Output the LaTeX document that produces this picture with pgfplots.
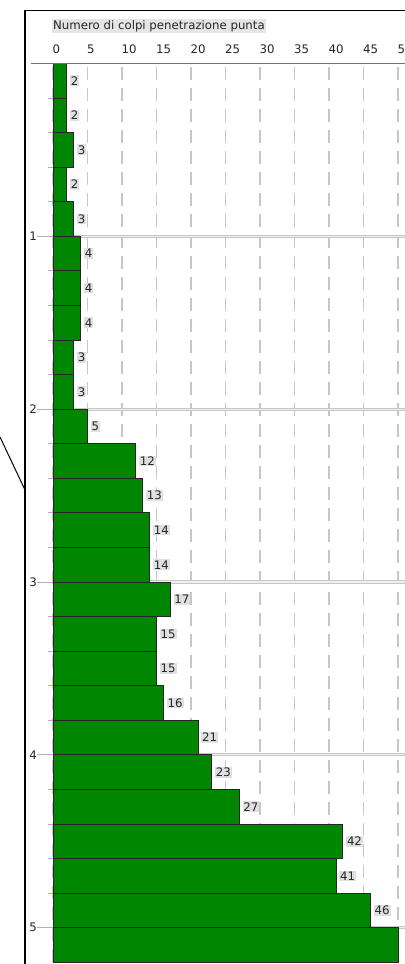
\documentclass[border=0pt]{standalone}
\usepackage{pgfplots}
\pgfplotsset{compat=1.18}
\usepackage{fontspec}
\setmainfont{DejaVu Sans}
\definecolor{bargreen}{RGB}{0,134,0}
\newcommand{\lblfont}{\fontsize{11.8}{13}\selectfont}
\begin{document}
\begin{tikzpicture}[x=1bp,y=1bp]
\useasboundingbox (0,0) rectangle (404,964);
% outer frame and connector line
\draw[black, line width=1.5bp] (25,-2) -- (25,953.3) -- (406,953.3);
\draw[black, line width=1bp] (0,527) -- (25,474);
\node[anchor=base west, fill=black!10, text=black!85, inner sep=1pt, font=\lblfont] at (52,934.7) {Numero di colpi penetrazione punta};
\begin{axis}[
  at={(53bp,900.5bp)}, anchor=north west,
  scale only axis, width=351.9bp, height=898.8bp,
  xmin=0, xmax=51, ymin=-5.2, ymax=0,
  axis line style={draw=none},
  xtick={0,5,...,50},
  xtick pos=upper, xticklabel pos=upper,
  xtick style={draw=none},
  xticklabel style={anchor=base west, inner sep=0pt, yshift=-6.5bp, xshift=-0.5bp, text=black!85},
  ytick={-1,-2,-3,-4,-5}, yticklabels={1,2,3,4,5},
  minor ytick={-0.2,-0.4,-0.6,-0.8,-1.2,-1.4,-1.6,-1.8,-2.2,-2.4,-2.6,-2.8,-3.2,-3.4,-3.6,-3.8,-4.2,-4.4,-4.6,-4.8},
  ytick pos=left, tick align=outside,
  major tick length=16bp, minor tick length=5bp,
  ytick style={gray!60, line width=0.8bp},
  minor tick style={gray!60, line width=0.8bp},
  yticklabel style={anchor=east, inner sep=0pt, text=black!85},
  xmajorgrids, ymajorgrids,
  x grid style={gray!45, line width=1.2bp, dash pattern=on 13bp off 8bp},
  y grid style={draw=gray!45, double=gray!12, double distance=1.2bp, line width=1bp},
  tick label style={font=\lblfont},
  /pgf/number format/assume math mode=true,
]
% bars: value at lower edge of each depth interval (depths negative, downwards)
\addplot[xbar interval, fill=bargreen, draw=black!85, line width=0.8bp] coordinates {
  (50,-5.2) (46,-5.0) (41,-4.8) (42,-4.6) (27,-4.4) (23,-4.2)
  (21,-4.0) (16,-3.8) (15,-3.6) (15,-3.4) (17,-3.2)
  (14,-3.0) (14,-2.8) (13,-2.6) (12,-2.4) (5,-2.2)
  (3,-2.0) (3,-1.8) (4,-1.6) (4,-1.4) (4,-1.2)
  (3,-1.0) (2,-0.8) (3,-0.6) (2,-0.4) (2,-0.2) (2,0)
};
% value labels
\addplot[draw=none, mark=none, nodes near coords, point meta=x,
  nodes near coords style={anchor=west, xshift=3bp, font=\lblfont, fill=black!12, text=black!85, inner sep=1pt}]
  coordinates {
  (2,-0.1) (2,-0.3) (3,-0.5) (2,-0.7) (3,-0.9)
  (4,-1.1) (4,-1.3) (4,-1.5) (3,-1.7) (3,-1.9)
  (5,-2.1) (12,-2.3) (13,-2.5) (14,-2.7) (14,-2.9)
  (17,-3.1) (15,-3.3) (15,-3.5) (16,-3.7) (21,-3.9)
  (23,-4.1) (27,-4.3) (42,-4.5) (41,-4.7) (46,-4.9)
};
\end{axis}
\draw[black!55, line width=1.3bp] (31,900.5) -- (406,900.5);
\end{tikzpicture}
\end{document}
